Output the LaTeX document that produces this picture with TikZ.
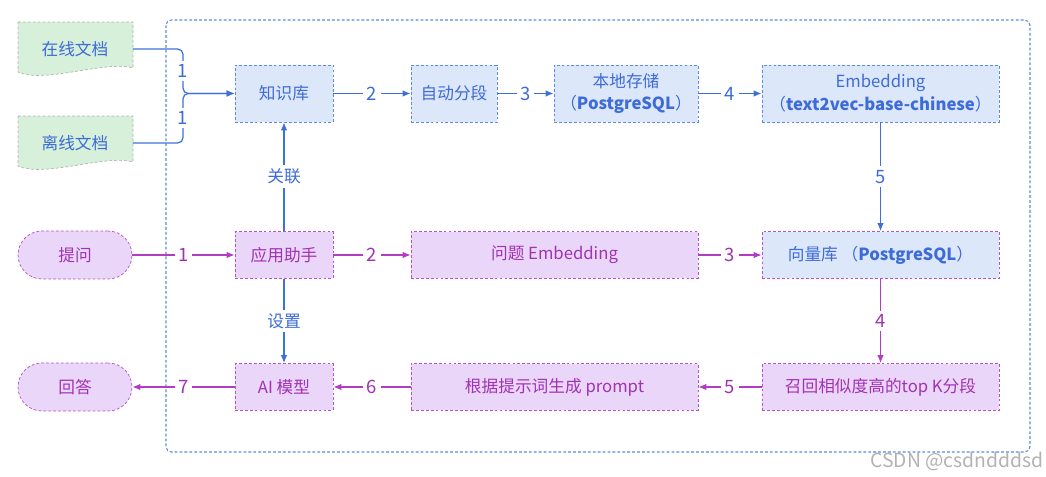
\documentclass[tikz,border=0pt]{standalone}
\usepackage{fontspec}
\setmainfont{Noto Sans CJK SC}
\usetikzlibrary{positioning, arrows.meta, calc}

\definecolor{bline}{HTML}{3E70DA}
\definecolor{bdash}{HTML}{5C8BE0}
\definecolor{pline}{HTML}{B23CC4}
\definecolor{pdash}{HTML}{B650CC}
\definecolor{bfill}{HTML}{DDE7FA}
\definecolor{pfill}{HTML}{EAD6F8}
\definecolor{gfill}{HTML}{D6F0D9}
\definecolor{btext}{HTML}{3D6BD8}
\definecolor{ptext}{HTML}{A232B4}

\begin{document}
\begin{tikzpicture}[x=0.02cm, y=-0.02cm,
  font=\fontsize{9.5}{13}\selectfont,
  bbox/.style={draw=bdash, dash pattern=on 1.6pt off 1.2pt, fill=bfill, text=btext,
               align=center, inner sep=2pt, minimum height=1.14cm},
  pbox/.style={draw=pdash, dash pattern=on 1.6pt off 1.2pt, fill=pfill, text=ptext,
               align=center, inner sep=2pt, minimum height=0.94cm},
  pill/.style={pbox, rounded corners=0.48cm, minimum height=0.96cm, minimum width=2.28cm},
  doc/.style={text=btext, minimum width=2.3cm, minimum height=1.08cm, inner sep=0pt},
  docshape/.style={draw=black!30, dash pattern=on 1.6pt off 1.2pt, fill=gfill},
  lbl/.style={fill=white, inner sep=2.2pt, font=\fontsize{10.5}{12}\selectfont},
  barr/.style={-{Latex[length=1.6mm,width=1.3mm]}, line width=0.7pt, draw=bline},
  parr/.style={-{Latex[length=1.6mm,width=1.3mm]}, line width=0.7pt, draw=pline}
]
\useasboundingbox (0,0) rectangle (1046,477);
\draw[draw=bdash, dash pattern=on 1.6pt off 1.2pt, line width=0.6pt, rounded corners=3pt]
  (166,20) rectangle (1030,452);

% source documents
\foreach \y in {49, 143}{
  \draw[docshape] (18,\y-27) -- (133,\y-27) -- (133,\y+19)
    .. controls (105,\y+11) and (45,\y+35) .. (18,\y+23) -- cycle;}
\node[doc] (on) at (75,49) {在线文档};
\node[doc] (off) at (75,143) {离线文档};

% knowledge base row
\node[bbox, minimum width=1.96cm] (kb) at (284,93.5) {知识库};
\node[bbox, minimum width=1.72cm] (auto) at (454,93.5) {自动分段};
\node[bbox, minimum width=2.88cm] (store) at (626,93.5) {本地存储\\（\textbf{PostgreSQL}）};
\node[bbox, minimum width=4.74cm] (emb) at (880.5,93.5) {Embedding\\（\textbf{text2vec-base-chinese}）};

% question row
\node[pill] (ask) at (75,255) {提问};
\node[pbox, minimum width=1.96cm] (app) at (284,255) {应用助手};
\node[pbox, minimum width=5.74cm] (qemb) at (554.5,255) {问题 Embedding};
\node[bbox, draw=pdash, minimum height=0.94cm, minimum width=4.74cm] (vec) at (880.5,255)
  {向量库 （\textbf{PostgreSQL}）};

% answer row
\node[pill] (ans) at (75,387) {回答};
\node[pbox, minimum width=1.96cm] (ai) at (284,387) {AI 模型};
\node[pbox, minimum width=5.74cm] (prm) at (554.5,387) {根据提示词生成 prompt};
\node[pbox, minimum width=4.74cm] (rec) at (880.5,387) {召回相似度高的top K分段};

\node[text=black!30, font=\fontsize{11}{12}\selectfont] (wm) at (957,461) {CSDN @csdndddsd};

% connectors
\draw[barr, rounded corners=3pt] (on.east) -- (183,49) -- (183,93.5) -- (kb.west);
\draw[barr, rounded corners=3pt] (off.east) -- (183,143) -- (183,93.5) -- (kb.west);
\node[lbl, text=btext] (n1a) at (183,71) {1};
\node[lbl, text=btext] (n1b) at (183,118) {1};
\foreach \a/\b/\n in {kb/auto/2, auto/store/3, store/emb/4}{
  \draw[barr] (\a) -- node[lbl, text=btext] (t\a) {\n} (\b);}
\draw[barr] (emb) -- node[lbl, text=btext] (temb) {5} (vec);
\draw[barr] (app) -- node[lbl, text=btext, font=\fontsize{9.5}{12}\selectfont] (tgl) {关联} (kb);
\draw[barr] (app) -- node[lbl, text=btext, font=\fontsize{9.5}{12}\selectfont] (tsz) {设置} (ai);
\foreach \a/\b/\n in {ask/app/1, app/qemb/2, qemb/vec/3, vec/rec/4, rec/prm/5, prm/ai/6, ai/ans/7}{
  \draw[parr] (\a) -- node[lbl, text=ptext] (t\a) {\n} (\b);}
\end{tikzpicture}
\end{document}
